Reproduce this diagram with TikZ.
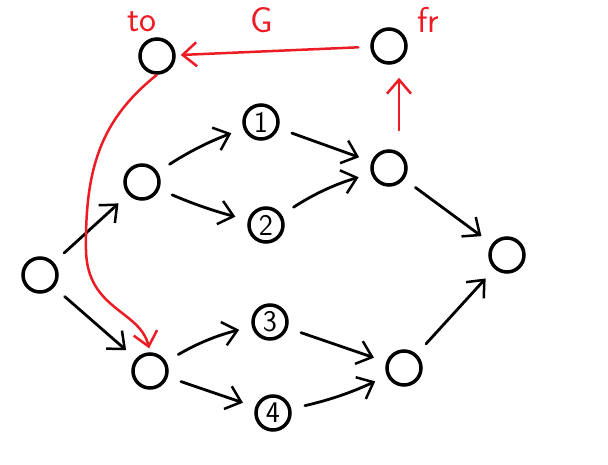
\documentclass[tikz,border=0pt]{standalone}
\usetikzlibrary{arrows.meta}
\definecolor{paintred}{RGB}{237,28,36}
\begin{document}
\begin{tikzpicture}[x=1pt,y=-1pt,
  vtx/.style={circle,draw,line width=3.5pt,minimum size=34pt,inner sep=0pt,font=\fontsize{30}{30}\selectfont\sffamily},
  arr/.style={-{Straight Barb[length=14pt,width=24pt,line width=2.5pt]},line width=2.8pt,line cap=round,shorten <=14pt,shorten >=13pt},
  rarr/.style={arr,draw=paintred,line width=2.5pt},
  lbl/.style={text=paintred,inner sep=1pt,font=\fontsize{36}{36}\selectfont\sffamily}]
\useasboundingbox (0,0) rectangle (608,465);
\node[vtx] (to) at (157,56) {};
\node[vtx] (fr) at (389,46) {};
\node[vtx] (n1) at (261,122) {1};
\node[vtx] (n2) at (266,225) {2};
\node[vtx] (a) at (142,182) {};
\node[vtx] (l) at (40,275) {};
\node[vtx] (b) at (150,371) {};
\node[vtx] (n3) at (270,322) {3};
\node[vtx] (n4) at (273,413) {4};
\node[vtx] (c) at (389,168) {};
\node[vtx] (d) at (404,368) {};
\node[vtx] (e) at (507,255) {};
\node[lbl] (tolbl) at (142,22) {to};
\node[lbl] (glbl) at (262,20) {G};
\node[lbl] (frlbl) at (428,20) {fr};
\coordinate (mid) at (86,250);
\draw[arr] (l) -- (a);
\draw[arr] (l) -- (b);
\draw[arr] (a) to[bend left=6] (n1);
\draw[arr] (a) to[bend right=4] (n2);
\draw[arr] (n1) -- (c);
\draw[arr] (n2) to[bend left=8] (c);
\draw[arr] (b) to[bend left=8] (n3);
\draw[arr] (b) -- (n4);
\draw[arr] (n3) -- (d);
\draw[arr] (n4) to[bend right=6] (d);
\draw[arr] (c) -- (e);
\draw[arr] (d) -- (e);
\draw[rarr,shorten <=12pt,shorten >=5pt] (fr) -- (to);
\draw[rarr,shorten <=19pt,shorten >=13pt] ([xshift=10pt]c.north) -- ([xshift=10pt]fr.south);
\draw[draw=paintred,line width=2.5pt] (to.south) .. controls (100,120) and (85,170) .. (mid);
\draw[rarr,shorten <=0pt,shorten >=4pt] (mid) .. controls (87,310) and (140,310) .. (b.north);
\end{tikzpicture}
\end{document}
